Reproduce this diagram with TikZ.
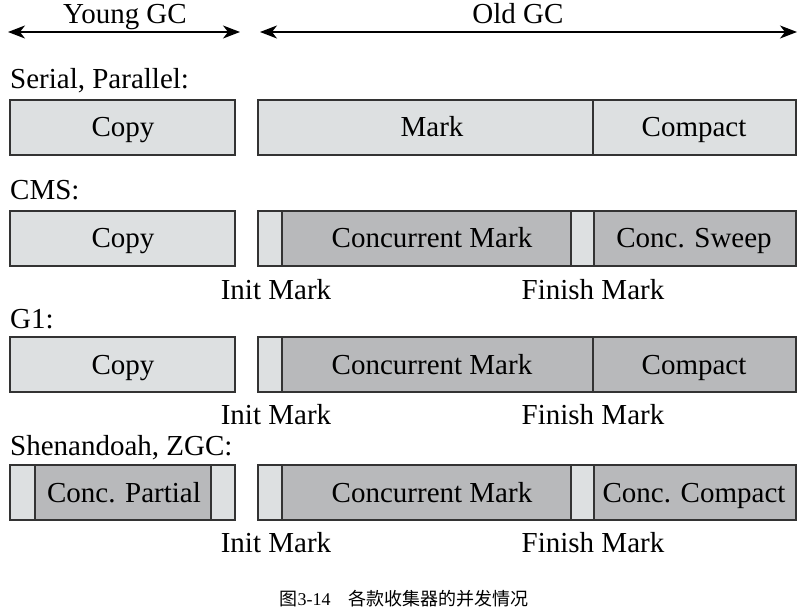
\documentclass[tikz,border=0pt]{standalone}
\usepackage{fontspec}
\setmainfont{Liberation Serif}
\newfontfamily\cjkfont{Noto Sans CJK SC}
\usetikzlibrary{arrows.meta}
\definecolor{liteseg}{HTML}{DDE0E1}
\definecolor{darkseg}{HTML}{B8B9BB}
\begin{document}
\begin{tikzpicture}[x=1pt,y=-1pt,
		lite/.style={draw=black!80,line width=1.2pt,fill=liteseg},
		dark/.style={draw=black!80,line width=1.2pt,fill=darkseg},
		txt/.style={anchor=base,inner sep=0pt,font=\fontsize{29}{31}\selectfont},
		lbl/.style={txt,anchor=base west},
		span/.style={{Stealth[length=17pt,width=13pt,inset=5pt]}-{Stealth[length=17pt,width=13pt,inset=5pt]},line width=1.2pt}]
	\useasboundingbox (0,0) rectangle (808,612);
	% phases
	\node[txt] (young) at (125,24) {Young GC};
	\node[txt] (old) at (518,24) {Old GC};
	\coordinate (ya) at (8,32); \coordinate (yb) at (240,32);
	\coordinate (oa) at (260,32); \coordinate (ob) at (797,32);
	\draw[span] (ya) -- (yb);
	\draw[span] (oa) -- (ob);
	% Serial, Parallel
	\node[lbl] (serial) at (10,89) {Serial, Parallel:};
	\draw[lite] (10,100) rectangle (235,155);
	\draw[lite] (258,100) rectangle (593,155);
	\draw[lite] (593,100) rectangle (796,155);
	\node[txt] (serialcopy) at (123,137) {Copy};
	\node[txt] (serialmark) at (432,137) {Mark};
	\node[txt] (serialcompact) at (694,137) {Compact};
	% CMS
	\node[lbl] (cms) at (10,200) {CMS:};
	\draw[lite] (10,211) rectangle (235,266);
	\draw[lite] (258,211) rectangle (282,266);
	\draw[dark] (282,211) rectangle (571,266);
	\draw[lite] (571,211) rectangle (594,266);
	\draw[dark] (594,211) rectangle (796,266);
	\node[txt] (cmscopy) at (123,248) {Copy};
	\node[txt] (cmsmark) at (432,248) {Concurrent Mark};
	\node[txt] (cmssweep) at (694,248) {Conc. Sweep};
	\node[txt] (cmsinit) at (276,299) {Init Mark};
	\node[txt] (cmsfinish) at (593,299) {Finish Mark};
	% G1
	\node[lbl] (gone) at (10,328) {G1:};
	\draw[lite] (10,337) rectangle (235,392);
	\draw[lite] (258,337) rectangle (282,392);
	\draw[dark] (282,337) rectangle (593,392);
	\draw[dark] (593,337) rectangle (796,392);
	\node[txt] (gonecopy) at (123,374) {Copy};
	\node[txt] (gonemark) at (432,374) {Concurrent Mark};
	\node[txt] (gonecompact) at (694,374) {Compact};
	\node[txt] (goneinit) at (276,424) {Init Mark};
	\node[txt] (gonefinish) at (593,424) {Finish Mark};
	% Shenandoah, ZGC
	\node[lbl] (shen) at (10,455) {Shenandoah, ZGC:};
	\draw[lite] (10,465) rectangle (35,520);
	\draw[dark] (35,465) rectangle (211,520);
	\draw[lite] (211,465) rectangle (235,520);
	\draw[lite] (258,465) rectangle (282,520);
	\draw[dark] (282,465) rectangle (571,520);
	\draw[lite] (571,465) rectangle (594,520);
	\draw[dark] (594,465) rectangle (796,520);
	\node[txt] (shenpartial) at (124,502) {Conc. Partial};
	\node[txt] (shenmark) at (432,502) {Concurrent Mark};
	\node[txt] (shencompact) at (694,502) {Conc. Compact};
	\node[txt] (sheninit) at (276,552) {Init Mark};
	\node[txt] (shenfinish) at (593,552) {Finish Mark};
	% caption
	\node[anchor=base,inner sep=0pt,font=\fontsize{18}{20}\selectfont] (caption) at (404,605) {{\cjkfont 图}3-14\hspace{18pt}{\cjkfont 各款收集器的并发情况}};
\end{tikzpicture}
\end{document}
